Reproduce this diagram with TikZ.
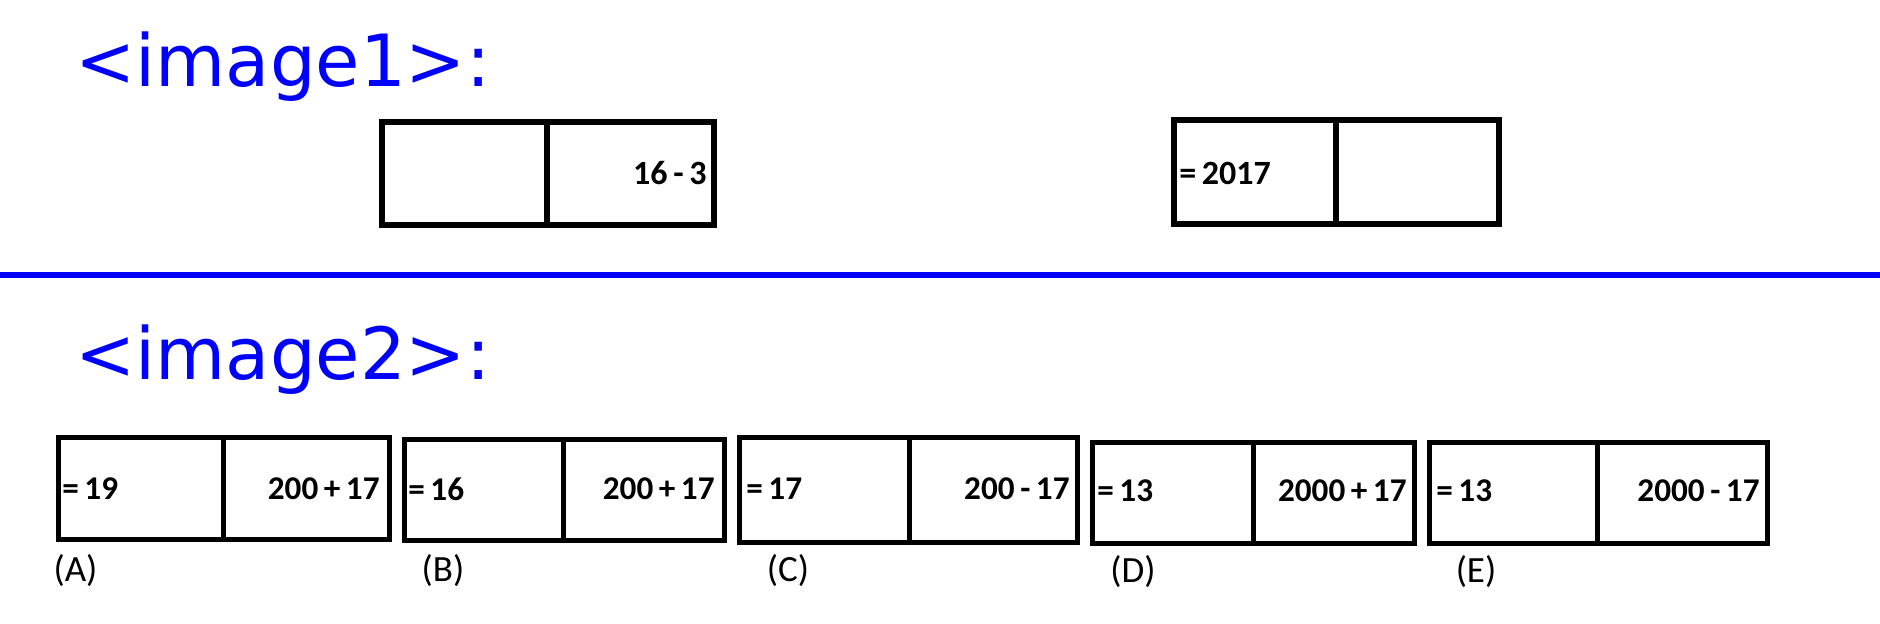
\documentclass[tikz,border=0pt]{standalone}
\usepackage{fontspec}
\newfontfamily\titlefont{DejaVu Sans}
\newfontfamily\calfont{Carlito}
\tikzset{
  frame/.style={line width=2.5pt, draw=black},
  topframe/.style={line width=3pt, draw=black},
  ttl/.style={anchor=base west, inner sep=0pt, text=blue, font=\titlefont\fontsize{36}{40}\selectfont},
  toptxt/.style={inner sep=0pt, font=\calfont\bfseries\fontsize{17}{20}\selectfont},
  bottxt/.style={inner sep=0pt, font=\calfont\bfseries\fontsize{16.6}{19}\selectfont},
  lbl/.style={inner sep=0pt, anchor=center, font=\calfont\fontsize{18.5}{22}\selectfont}
}
\begin{document}
\begin{tikzpicture}[x=0.5pt,y=-0.5pt]
\useasboundingbox (0,0) rectangle (1880,624);
% titles
\node[ttl] (t1) at (75,87) {<image1>:};
\node[ttl] (t2) at (75,380) {<image2>:};
% separator
\draw[blue, line width=3pt] (0,275) -- (1880,275);
% top boxes
\draw[topframe] (382,122) rectangle (714,225);
\draw[topframe] (547,122) -- (547,225);
\node[toptxt, anchor=east] (q1) at (707,173) {16\,-\,3};
\draw[topframe] (1174,120) rectangle (1499,224);
\draw[topframe] (1336,120) -- (1336,224);
\node[toptxt, anchor=west] (q2) at (1179,173) {=\,2017};
% options
\draw[frame] (58.5,437.5) rectangle (389.5,539.5);
\draw[frame] (223,437.5) -- (223,539.5);
\node[bottxt, anchor=west] (a1) at (62,489) {=\,19};
\node[bottxt, anchor=east] (a2) at (380,489) {200\,+\,17};
\node[lbl] (la) at (75.5,571) {(A)};

\draw[frame] (404.5,439.5) rectangle (724.5,540.5);
\draw[frame] (563,439.5) -- (563,540.5);
\node[bottxt, anchor=west] (b1) at (408,489) {=\,16};
\node[bottxt, anchor=east] (b2) at (715,489) {200\,+\,17};
\node[lbl] (lb) at (443,571) {(B)};

\draw[frame] (739.5,437.5) rectangle (1077.5,542.5);
\draw[frame] (909,437.5) -- (909,542.5);
\node[bottxt, anchor=west] (c1) at (746,489) {=\,17};
\node[bottxt, anchor=east] (c2) at (1070,489) {200\,-\,17};
\node[lbl] (lc) at (788,571) {(C)};

\draw[frame] (1092.5,442.5) rectangle (1414.5,543.5);
\draw[frame] (1253,442.5) -- (1253,543.5);
\node[bottxt, anchor=west] (d1) at (1097,491) {=\,13};
\node[bottxt, anchor=east] (d2) at (1407,491) {2000\,+\,17};
\node[lbl] (ld) at (1133,572) {(D)};

\draw[frame] (1429.5,442.5) rectangle (1767.5,543.5);
\draw[frame] (1597,442.5) -- (1597,543.5);
\node[bottxt, anchor=west] (e1) at (1436,491) {=\,13};
\node[bottxt, anchor=east] (e2) at (1760,491) {2000\,-\,17};
\node[lbl] (le) at (1476,572) {(E)};
\end{tikzpicture}
\end{document}
